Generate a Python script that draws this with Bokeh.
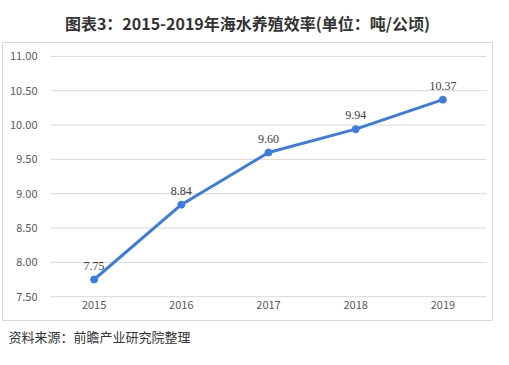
from bokeh.plotting import figure
from bokeh.models import ColumnDataSource, LabelSet, Title, Range1d, NumeralTickFormatter, FixedTicker
from bokeh.embed import file_html
from bokeh.resources import INLINE

years = ["2015", "2016", "2017", "2018", "2019"]
values = [7.75, 8.84, 9.60, 9.94, 10.37]
value_labels = ["7.75", "8.84", "9.60", "9.94", "10.37"]
y_ticks = [7.5, 8.0, 8.5, 9.0, 9.5, 10.0, 10.5, 11.0]
title_text = "图表3：2015-2019年海水养殖效率(单位：吨/公顷)"
source_text = "资料来源：前瞻产业研究院整理"

W, H = 493, 349
# frame (= bordered box) in figure pixels
FL, FR, FT, FB = 2, 492, 42, 322
PAD_L, PAD_R = 48, 6           # px between box and plotting band
PAD_T, PAD_B = 14, 24          # px between box and 11.00 / 7.50
FONT = "Noto Sans CJK SC"
BLUE = "#3b7ddd"
GRID = "#d9d9d9"

xs = list(range(len(years)))
band = (FR - FL - PAD_L - PAD_R) / len(years)
x0 = -0.5 - PAD_L / band
x1 = len(years) - 0.5 + PAD_R / band
ppu = (FB - FT - PAD_T - PAD_B) / (y_ticks[-1] - y_ticks[0])
y0 = y_ticks[0] - PAD_B / ppu
y1 = y_ticks[-1] + PAD_T / ppu

src = ColumnDataSource(dict(x=xs, y=values, lab=value_labels))
grid_src = ColumnDataSource(dict(x0=[-0.5] * len(y_ticks), x1=[len(years) - 0.5] * len(y_ticks), y=y_ticks))

p = figure(width=W, height=H, x_range=Range1d(x0, x1), y_range=Range1d(y0, y1),
           output_backend="svg", toolbar_location=None,
           min_border_left=FL, min_border_right=W - FR, min_border_top=FT, min_border_bottom=H - FB)
p.outline_line_color = GRID
p.outline_line_width = 1
p.background_fill_color = "white"
p.border_fill_color = "white"
p.xgrid.grid_line_color = None
p.ygrid.grid_line_color = None

p.title.text = title_text
p.title.align = "center"
p.title.text_font = FONT
p.title.text_font_size = "16px"
p.title.text_font_style = "bold"
p.title.text_color = "#333333"
p.title.standoff = 16

p.yaxis.ticker = FixedTicker(ticks=y_ticks)
p.yaxis.formatter = NumeralTickFormatter(format="0.00")
p.yaxis.axis_line_color = None
p.yaxis.major_tick_line_color = None
p.yaxis.minor_tick_line_color = None
p.yaxis.major_tick_out = 0
p.yaxis.major_label_standoff = -35
p.yaxis.major_label_text_font = FONT
p.yaxis.major_label_text_font_size = "11px"
p.yaxis.major_label_text_color = "#595959"

p.xaxis.ticker = FixedTicker(ticks=xs)
p.xaxis.major_label_overrides = {i: y for i, y in zip(xs, years)}
p.xaxis.axis_line_color = None
p.xaxis.major_tick_line_color = None
p.xaxis.minor_tick_line_color = None
p.xaxis.major_tick_out = 0
p.xaxis.major_label_standoff = -20
p.xaxis.major_label_text_font = FONT
p.xaxis.major_label_text_font_size = "11px"
p.xaxis.major_label_text_color = "#595959"

p.segment(x0="x0", x1="x1", y0="y", y1="y", source=grid_src, line_color=GRID, line_width=1)
p.line("x", "y", source=src, line_color=BLUE, line_width=3)
p.scatter("x", "y", source=src, size=7, fill_color=BLUE, line_color=BLUE)

labels = LabelSet(x="x", y="y", text="lab", source=src, y_offset=10,
                  text_align="center", text_baseline="bottom",
                  text_font=FONT, text_font_size="12px", text_color="#404040")
p.add_layout(labels)

foot = Title(text=source_text, align="left", offset=6, standoff=8, text_font=FONT,
             text_font_size="13px", text_font_style="normal", text_color="#333333")
p.add_layout(foot, "below")

open("out.html", "w").write(file_html(p, INLINE))
